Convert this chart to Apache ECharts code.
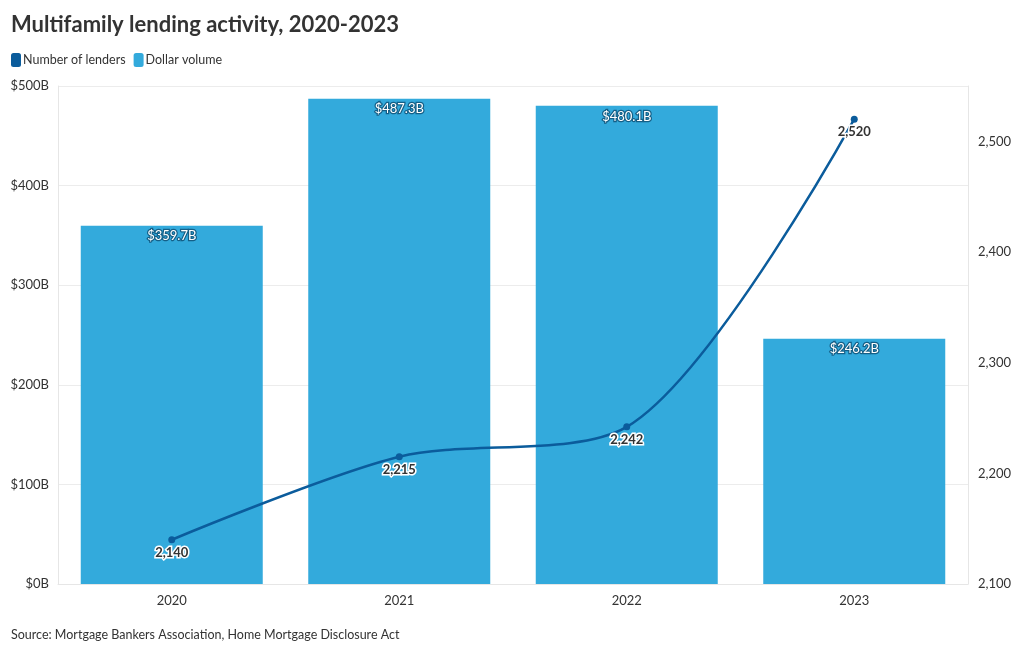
<!DOCTYPE html>
<html><head><meta charset="utf-8">
<script src="https://cdn.jsdelivr.net/npm/echarts@6/dist/echarts.min.js"></script>
<style>html,body{margin:0;padding:0;background:#fff}#c{width:1020px;height:650px}</style>
</head><body><div id="c"></div>
<script>
const categories = ['2020', '2021', '2022', '2023'];
const dollarVolume = [359.7, 487.3, 480.1, 246.2];
const lenders = [2140, 2215, 2242, 2520];
const leftTicks = ['$0B', '$100B', '$200B', '$300B', '$400B', '$500B'];

const chart = echarts.init(document.getElementById('c'));
const font = 'Lato, "Open Sans", sans-serif';
chart.setOption({
  animation: false,
  textStyle: { fontFamily: font },
  title: {
    text: 'Multifamily lending activity, 2020-2023',
    left: 6, top: 9,
    textStyle: { fontFamily: font, fontSize: 22, fontWeight: 'bold', color: '#333' },
    subtext: 'Source: Mortgage Bankers Association, Home Mortgage Disclosure Act',
    subtextStyle: { fontFamily: font, fontSize: 12.5, color: '#333' },
    itemGap: 592
  },
  legend: {
    left: 6, top: 48,
    icon: 'roundRect', itemWidth: 10, itemHeight: 14, itemGap: 8,
    textStyle: { fontFamily: font, fontSize: 12.5, color: '#333', padding: [0, 0, 0, -3] },
    data: ['Number of lenders', 'Dollar volume']
  },
  grid: { left: 58, right: 52, top: 86, bottom: 66, containLabel: false },
  xAxis: {
    type: 'category', data: categories,
    axisLine: { lineStyle: { color: '#e6e6e6' } },
    axisTick: { show: false },
    axisLabel: { color: '#333', fontSize: 13, margin: 10, fontFamily: font }
  },
  yAxis: [
    {
      type: 'value', min: 0, max: 500, interval: 100,
      axisLine: { show: true, lineStyle: { color: '#e6e6e6' } },
      axisTick: { show: false },
      axisLabel: { color: '#333', fontSize: 13, margin: 9, fontFamily: font,
        formatter: v => leftTicks[Math.round(v / 100)] },
      splitLine: { lineStyle: { color: '#ececec' } }
    },
    {
      type: 'value', min: 2100, max: 2550, interval: 100,
      axisLine: { show: true, lineStyle: { color: '#e6e6e6' } },
      axisTick: { show: false },
      axisLabel: { color: '#333', fontSize: 13, margin: 10, fontFamily: font, showMaxLabel: false,
        formatter: v => v.toLocaleString('en-US') },
      splitLine: { show: false }
    }
  ],
  series: [
    {
      name: 'Dollar volume', type: 'bar', yAxisIndex: 0, data: dollarVolume,
      barCategoryGap: '20%',
      itemStyle: { color: '#33aadc' },
      label: { show: true, position: 'insideTop', distance: 4,
        color: '#fff', fontSize: 13, fontFamily: font,
        textBorderColor: '#145f87', textBorderWidth: 2.5,
        formatter: p => '$' + p.value.toFixed(1) + 'B' },
      z: 1
    },
    {
      name: 'Number of lenders', type: 'line', yAxisIndex: 1, data: lenders,
      smooth: 0.3,
      symbol: 'circle', symbolSize: 7,
      lineStyle: { color: '#0b5c9c', width: 2.5 },
      itemStyle: { color: '#0b5c9c' },
      label: { show: true, position: 'bottom', distance: 3,
        color: '#333', fontSize: 13, fontWeight: 'bold', fontFamily: font,
        textBorderColor: '#fff', textBorderWidth: 3,
        formatter: p => p.value.toLocaleString('en-US') },
      z: 3
    }
  ]
});
</script></body></html>
